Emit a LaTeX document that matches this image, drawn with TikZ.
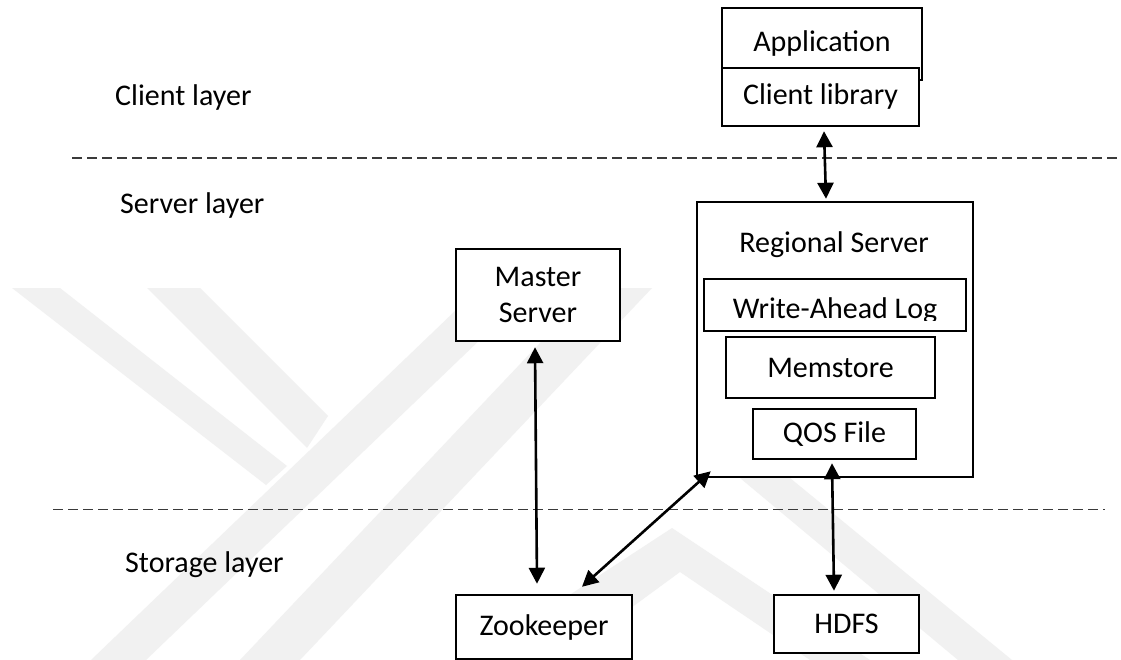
\documentclass[tikz,border=0pt]{standalone}
\usepackage{fontspec}
\setmainfont{Carlito}
\usetikzlibrary{arrows.meta,calc}
\definecolor{wmgray}{HTML}{F1F1F1}
\definecolor{dashgray}{HTML}{3A3A3A}
\tikzset{
  box/.style={draw=black, line width=2.5pt, fill=white, inner sep=0pt, align=center,
              font=\fontsize{30}{35}\selectfont},
  layertext/.style={anchor=base west, inner sep=0pt, font=\fontsize{30}{35}\selectfont},
  sep/.style={draw=dashgray, line width=1.4pt, dash pattern=on 10pt off 5pt},
  link/.style={line width=2.6pt, {Triangle[length=16pt,width=16pt]}-{Triangle[length=16pt,width=16pt]}},
  mark band/.style={fill=wmgray, draw=none}
}
\begin{document}
\begin{tikzpicture}[x=1pt,y=-1pt]
\useasboundingbox (0,0) rectangle (1121,660);
\fill[white] (0,0) rectangle (1121,660);

% faint background emblem
\fill[mark band] (12,288) -- (60,288) -- (287,466) -- (266,485) -- cycle;
\fill[mark band] (147,288) -- (200,288) -- (328,416) -- (307,448) -- cycle;
\fill[mark band] (479,288) -- (534,288) -- (146,660) -- (91,660) -- cycle;
\fill[mark band] (592,288) -- (652,288) -- (300,660) -- (240,660) -- cycle;
\fill[mark band] (672,528) -- (720,560) -- (870,660) -- (810,660) -- (680,572) -- (560,660) -- (470,660) -- cycle;
\fill[mark band] (740,478) -- (790,478) -- (1012,660) -- (958,660) -- cycle;

% layer separators
\coordinate (s1a) at (72,158);
\coordinate (s1b) at (1121,158);
\coordinate (s2a) at (53,509.5);
\coordinate (s2b) at (1105,509.5);
\draw[sep] (s1a) -- (s1b);
\draw[sep] (s2a) -- (s2b);

% layer names
\node[layertext] (lclient) at (115,106) {Client layer};
\node[layertext] (lserver) at (120,214) {Server layer};
\node[layertext] (lstorage) at (125,572) {Storage layer};

% client side
\node[box, minimum width=200pt, minimum height=72pt] (app) at (822,44) {Application};
\node[box, minimum width=197pt, minimum height=58pt] (cl) at (820.5,97) {Client library};

% region server with its stores
\node[box, minimum width=276pt, minimum height=275pt] (rs) at (835,339.5) {};
\node[inner sep=0pt, font=\fontsize{30}{35}\selectfont] (rstitle) at (834,245) {\vphantom{Ag}Regional Server};
\node[box, minimum width=262pt, minimum height=52pt] (wal) at (835,305) {};
\begin{scope}
  \clip (706,281) rectangle (964,320);
  \node[inner sep=0pt, font=\fontsize{30}{35}\selectfont] (waltext) at (835,311) {\vphantom{Ag}Write-Ahead Log};
\end{scope}
\node[box, minimum width=209pt, minimum height=61pt] (mem) at (830.5,367.5) {Memstore};
\node[box, minimum width=163pt, minimum height=50pt] (qos) at (834.5,434) {QOS File};

% master and storage services
\node[box, minimum width=164pt, minimum height=92pt] (master) at (538,295) {Master\\[1pt]Server};
\node[box, minimum width=176pt, minimum height=64pt] (zk) at (544,627) {Zookeeper};
\node[box, minimum width=145pt, minimum height=58pt] (hdfs) at (846.5,624) {HDFS};

% connections
\draw[link] ($(cl.south)+(3.5,4)$) -- ($(rs.north)+(-9,-2)$);
\draw[link] ($(master.south)+(-3,5)$) -- ($(zk.north)+(-7,-10)$);
\draw[link] ($(zk.north)+(38,-7)$) -- ($(rs.south west)+(15,-7)$);
\draw[link] ($(qos.south)+(-2.5,3)$) -- ($(hdfs.north)+(-12.5,-3)$);
\end{tikzpicture}
\end{document}
